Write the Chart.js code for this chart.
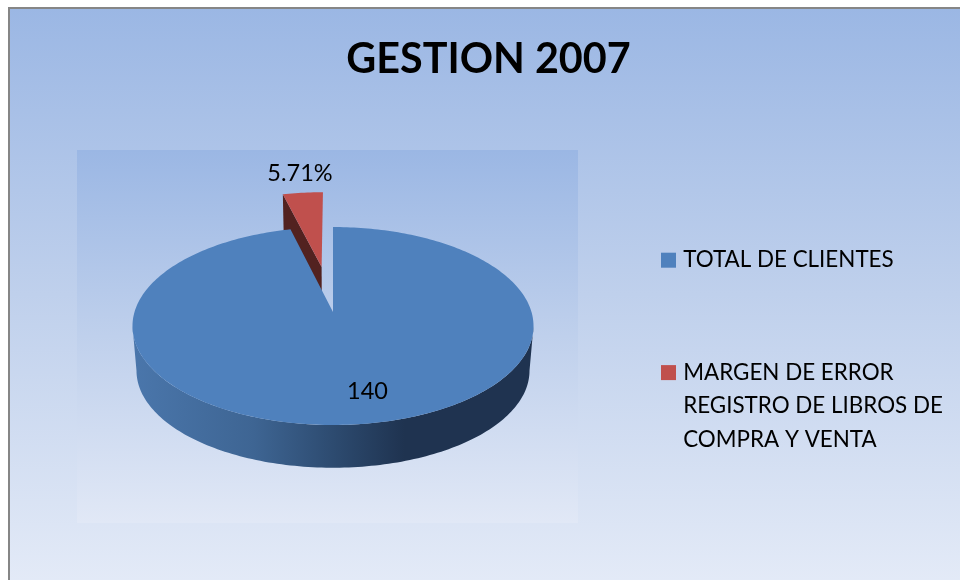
<!DOCTYPE html>
<html>
<head>
<meta charset="utf-8">
<style>html,body{margin:0;padding:0;background:#fff}canvas{display:block}</style>
<script src="https://cdn.jsdelivr.net/npm/chart.js@4/dist/chart.umd.min.js"></script>
</head>
<body>
<canvas id="c" width="960" height="580"></canvas>
<script>
const titleText = "GESTION 2007";
const categories = ["TOTAL DE CLIENTES", ["MARGEN DE ERROR", "REGISTRO DE LIBROS DE", "COMPRA Y VENTA"]];
const seriesValues = [140, 5.71];
const dataLabels = ["140", "5.71%"];
const sliceColors = ["#4f81bd", "#c0504d"];

const FONT = "Lato, 'Open Sans', sans-serif";
// projection of the pie disc onto the page (tilted, with perspective)
const view = {cx: 333, cy: 312, rx: 198.5, ry: 97, k: 0.1414, depth: 45, shrink: 0.98};
const explode = [0, 0.5];
const labelAt = [{dx: 34.5, dy: 79}, {dx: -33, dy: -139}];

function project(u, v, bottom) {
  const w = 1 - view.k * v;
  const s = bottom ? view.shrink : 1;
  return {
    x: view.cx + s * view.rx * u / w,
    y: view.cy + s * view.ry * v / w + (bottom ? view.depth : 0)
  };
}
function arcPoints(a0, a1, ou, ov, bottom) {
  const n = Math.max(2, Math.ceil(Math.abs(a1 - a0) / 0.02));
  const pts = [];
  for (let i = 0; i <= n; i++) {
    const a = a0 + (a1 - a0) * i / n;
    pts.push(project(ou + Math.cos(a), ov + Math.sin(a), bottom));
  }
  return pts;
}
function fillPoly(ctx, pts, fill) {
  ctx.beginPath();
  pts.forEach((p, i) => i ? ctx.lineTo(p.x, p.y) : ctx.moveTo(p.x, p.y));
  ctx.closePath();
  ctx.fillStyle = fill;
  ctx.fill();
}

const pie3d = {
  id: "pie3d",
  beforeDraw(chart) {
    const ctx = chart.ctx;
    ctx.save();
    ctx.fillStyle = "#ffffff";
    ctx.fillRect(0, 0, 960, 580);
    let g = ctx.createLinearGradient(0, 8, 0, 580);
    g.addColorStop(0, "#9bb7e4");
    g.addColorStop(0.5, "#bfd0ec");
    g.addColorStop(1, "#e3eaf7");
    ctx.fillStyle = g;
    ctx.fillRect(8, 7, 952, 573);
    ctx.fillStyle = "#868686";
    ctx.fillRect(8, 7, 952, 2);
    ctx.fillRect(8, 7, 2, 573);
    g = ctx.createLinearGradient(0, 150, 0, 523);
    g.addColorStop(0, "#9bb7e4");
    g.addColorStop(0.5, "#bfd0ec");
    g.addColorStop(1, "#e1e8f6");
    ctx.fillStyle = g;
    ctx.fillRect(77, 150, 501, 373);
    ctx.restore();
  },
  beforeDatasetDraw(chart) {
    const ctx = chart.ctx;
    const arcs = chart.getDatasetMeta(0).data;
    ctx.save();
    // exploded slices go behind the main disc
    const order = arcs.map((_, i) => i).sort((a, b) => explode[b] - explode[a]);
    order.forEach(i => {
      const arc = arcs[i];
      const a0 = arc.startAngle, a1 = arc.endAngle;
      const mid = (a0 + a1) / 2;
      const ou = explode[i] * Math.cos(mid), ov = explode[i] * Math.sin(mid);
      if (explode[i] > 0) {
        const rim = {x: ou + Math.cos(a0), y: ov + Math.sin(a0)};
        fillPoly(ctx, [
          project(ou, ov, false), project(rim.x, rim.y, false),
          project(rim.x, rim.y, true), project(ou, ov, true)
        ], "#522220");
      } else {
        const tangent = Math.asin(view.k);
        const front0 = tangent, front1 = Math.PI - tangent;
        const top = arcPoints(front0, front1, ou, ov, false);
        const bot = arcPoints(front1, front0, ou, ov, true);
        const g = ctx.createLinearGradient(view.cx - view.rx, 0, view.cx + view.rx, 0);
        g.addColorStop(0, "#4a76ab");
        g.addColorStop(0.3, "#3e6593");
        g.addColorStop(0.5, "#2d4b70");
        g.addColorStop(0.68, "#1f3350");
        g.addColorStop(1, "#1f3350");
        fillPoly(ctx, top.concat(bot), g);
      }
      const face = [project(ou, ov, false)].concat(arcPoints(a0, a1, ou, ov, false));
      fillPoly(ctx, face, sliceColors[i]);
    });
    ctx.restore();
    return false;
  },
  afterDatasetsDraw(chart) {
    const ctx = chart.ctx;
    ctx.save();
    ctx.font = "23.5px " + FONT;
    ctx.fillStyle = "#000";
    ctx.textAlign = "center";
    ctx.textBaseline = "middle";
    dataLabels.forEach((t, i) => ctx.fillText(t, view.cx + labelAt[i].dx, view.cy + labelAt[i].dy));
    ctx.restore();
  },
  afterLayout(chart) {
    const l = chart.legend;
    l.left = 665 - 90;
    l.right = l.left + l.width;
    l.top = 159;
    l.bottom = l.top + l.height;
  }
};

new Chart(document.getElementById("c"), {
  type: "pie",
  data: {
    labels: categories,
    datasets: [{data: seriesValues, backgroundColor: sliceColors, borderWidth: 0}]
  },
  plugins: [pie3d],
  options: {
    responsive: false,
    animation: false,
    layout: {padding: {left: 17}},
    plugins: {
      tooltip: {enabled: false},
      title: {
        display: true, text: titleText, color: "#000",
        font: {family: FONT, size: 41.3, weight: "bold"},
        padding: {top: 35, bottom: 20}
      },
      legend: {
        position: "right", align: "start",
        labels: {
          boxWidth: 7, boxHeight: 7, padding: 90, color: "#000",
          font: {family: FONT, size: 22.4, lineHeight: 1.5},
          generateLabels(chart) {
            return Chart.overrides.pie.plugins.legend.labels.generateLabels(chart).map(item => {
              item.lineWidth = 8;
              item.strokeStyle = item.fillStyle;
              return item;
            });
          }
        }
      }
    }
  }
});
</script>
</body>
</html>
